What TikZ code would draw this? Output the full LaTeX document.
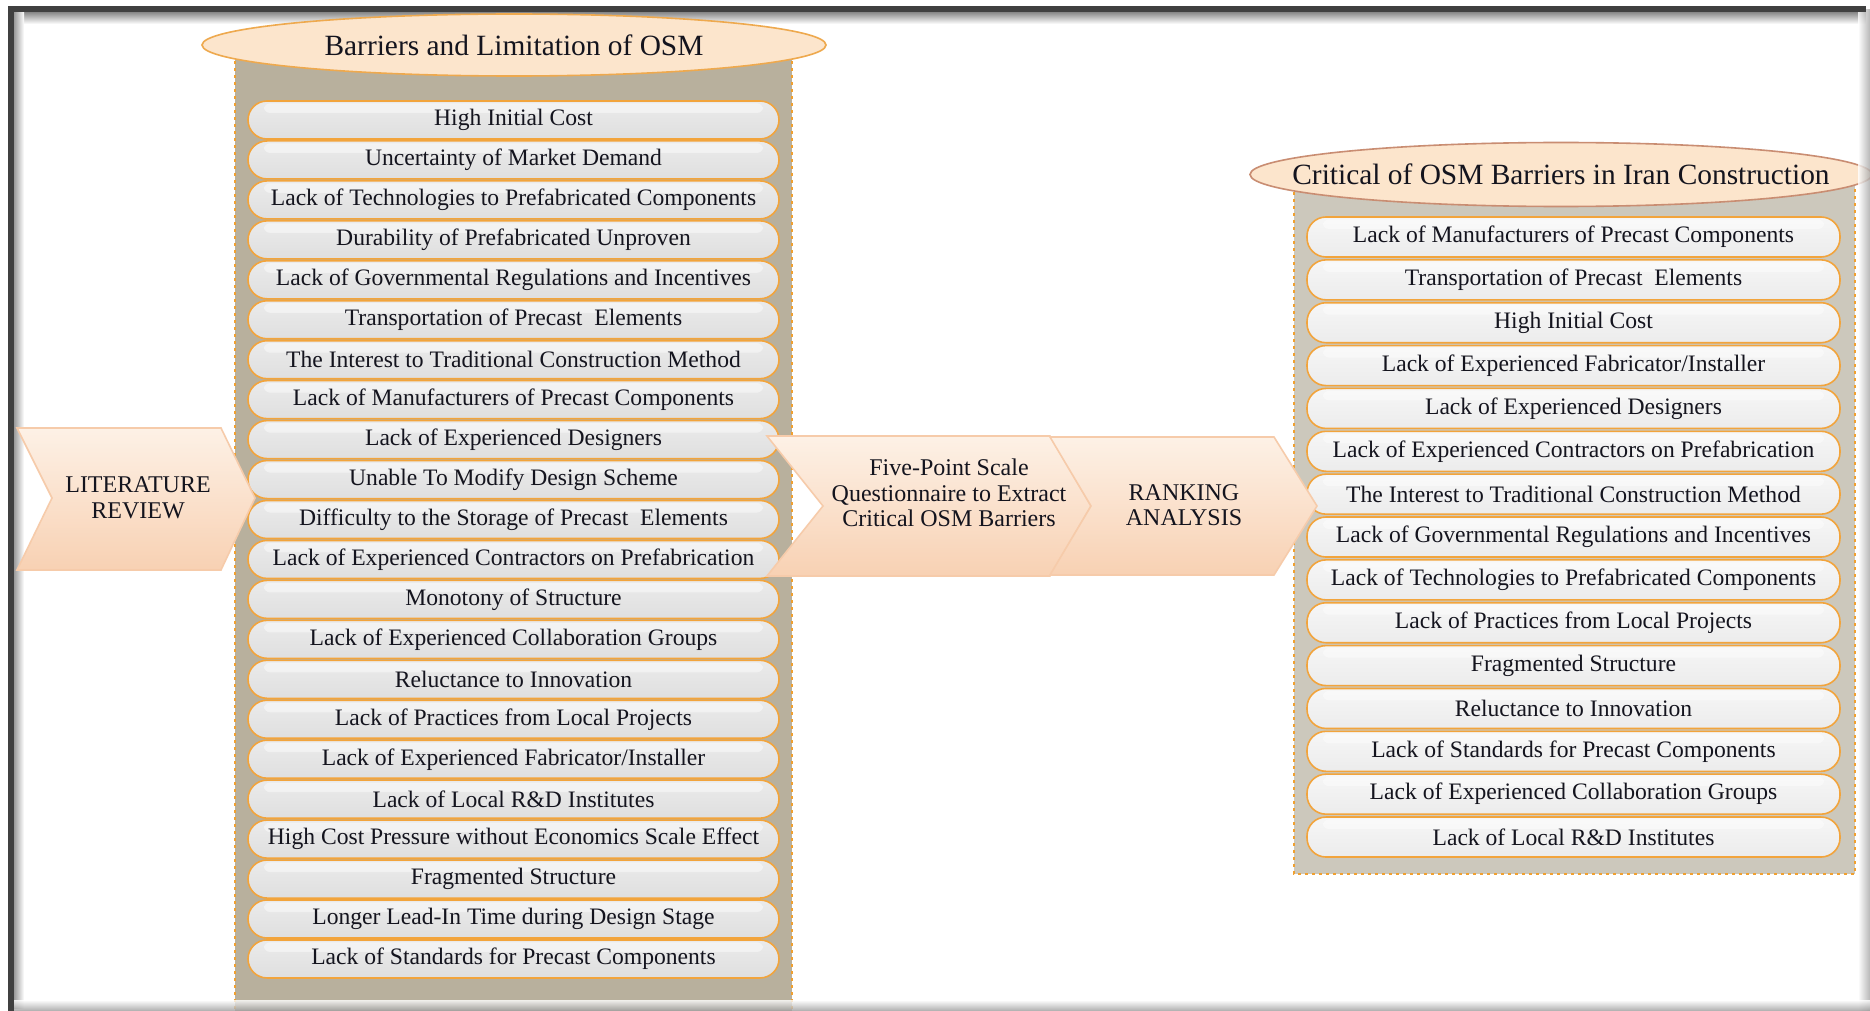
\documentclass[tikz,border=0pt]{standalone}
\usepackage{fontspec}
\setmainfont{Liberation Serif}
\usetikzlibrary{calc}
\definecolor{txt}{HTML}{14141E}
\definecolor{pillline}{HTML}{F2A43C}
\definecolor{lcol}{HTML}{B8B09D}
\definecolor{rcol}{HTML}{CCC8BC}
\definecolor{ellfill}{HTML}{FCE5CC}
\definecolor{ellleft}{HTML}{EEA94E}
\definecolor{ellright}{HTML}{C98D72}
\definecolor{chevtop}{HTML}{FDF1E6}
\definecolor{chevbot}{HTML}{F8D1B3}
\definecolor{chevline}{HTML}{F6CBAA}
\definecolor{colline}{HTML}{F0A030}
\begin{document}
\begin{tikzpicture}[x=0.5pt,y=-0.5pt,
  pillbase/.style={draw=pillline, line width=0.8pt, rounded corners=9.5pt,
    inner sep=0pt, text=txt, font=\fontsize{11.8}{13}\selectfont,
    path picture={\fill[white,opacity=0.45,rounded corners=3pt]
      ($(path picture bounding box.north west)+(8pt,-1.2pt)$) rectangle
      ($(path picture bounding box.north east)+(-8pt,-6pt)$);}},
  lpill/.style={pillbase, minimum width=265.5pt, minimum height=19pt,
    top color=white!84!gray, bottom color=white!75!gray},
  rpill/.style={pillbase, minimum width=266.5pt, minimum height=20pt,
    top color=white!93!gray, bottom color=white!85!gray},
  column/.style={draw=colline, line width=0.7pt, dash pattern=on 1.5pt off 2pt},
  header/.style={fill=ellfill, line width=0.8pt},
  headtext/.style={text=txt, inner sep=0pt, font=\fontsize{14.7}{16}\selectfont},
  chevron/.style={draw=chevline, line width=0.8pt, top color=chevtop, bottom color=chevbot},
  chevtext/.style={align=center, text=txt, font=\fontsize{12}{12.8}\selectfont}]

% page and frame
\fill[white] (0,0) rectangle (1870,1011);
\useasboundingbox (0,0) rectangle (1870,1011);
\shade[top color=black!55, bottom color=white] (10,10) rectangle (1866,24);
\shade[left color=black!55, right color=white] (10,10) rectangle (24,1008);

% left column: barriers from the literature
\fill[lcol] (235,40) rectangle (792,1011);
\draw[column] (235,40) -- (235,1011) (792,40) -- (792,1011);
\path[header, draw=ellleft] (514,45) ellipse [x radius=312, y radius=31];
\node[headtext] (lhead) at (514,45) {Barriers and Limitation of OSM};

\foreach \t [count=\i] in {
  {High Initial Cost},
  {Uncertainty of Market Demand},
  {Lack of Technologies to Prefabricated Components},
  {Durability of Prefabricated Unproven},
  {Lack of Governmental Regulations and Incentives},
  {Transportation of Precast~ Elements},
  {The Interest to Traditional Construction Method},
  {Lack of Manufacturers of Precast Components},
  {Lack of Experienced Designers},
  {Unable To Modify Design Scheme},
  {Difficulty to the Storage of Precast~ Elements},
  {Lack of Experienced Contractors on Prefabrication},
  {Monotony of Structure},
  {Lack of Experienced Collaboration Groups},
  {Reluctance to Innovation},
  {Lack of Practices from Local Projects},
  {Lack of Experienced Fabricator/Installer},
  {Lack of Local R\&D Institutes},
  {High Cost Pressure without Economics Scale Effect},
  {Fragmented Structure},
  {Longer Lead-In Time during Design Stage},
  {Lack of Standards for Precast Components}}
  \node[lpill] (l\i) at (513.5,{120+39.95*(\i-1)}) {\t};

% right column: critical barriers after ranking
\fill[rcol] (1294,185) rectangle (1855,874);
\draw[column] (1294,185) -- (1294,874) -- (1855,874) -- (1855,185);
\path[header, draw=ellright] (1561,174.5) ellipse [x radius=311, y radius=32];
\node[headtext] (rhead) at (1561,174.5) {Critical of OSM Barriers in Iran Construction};

\foreach \t [count=\i] in {
  {Lack of Manufacturers of Precast Components},
  {Transportation of Precast~ Elements},
  {High Initial Cost},
  {Lack of Experienced Fabricator/Installer},
  {Lack of Experienced Designers},
  {Lack of Experienced Contractors on Prefabrication},
  {The Interest to Traditional Construction Method},
  {Lack of Governmental Regulations and Incentives},
  {Lack of Technologies to Prefabricated Components},
  {Lack of Practices from Local Projects},
  {Fragmented Structure},
  {Reluctance to Innovation},
  {Lack of Standards for Precast Components},
  {Lack of Experienced Collaboration Groups},
  {Lack of Local R\&D Institutes}}
  \node[rpill] (r\i) at (1573.5,{237+42.86*(\i-1)}) {\t};

% process chevrons
\path[chevron] (17,428) -- (221,428) -- (255,498) -- (221,570) -- (17,570) -- (52,498) -- cycle;
\node[chevtext] (lit) at (138,498) {LITERATURE\\REVIEW};

\path[chevron] (767,436) -- (1050,436) -- (1091,506) -- (1050,576) -- (767,576) -- (823,506) -- cycle;
\node[chevtext] (quest) at (949,493) {Five-Point Scale\\Questionnaire to Extract\\Critical OSM Barriers};

\path[chevron] (1050,437) -- (1274,437) -- (1317,506) -- (1274,575) -- (1050,575) -- (1091,506) -- cycle;
\node[chevtext] (rank) at (1184,505) {RANKING\\ANALYSIS};

% frame edges
\shade[left color=white, right color=black!35, opacity=0.8] (1858,10) rectangle (1870,1011);
\shade[top color=white, bottom color=black!40, opacity=0.8] (10,1000) rectangle (1870,1011);
\draw[black!75, line width=3] (11,1011) -- (11,9.5) -- (1866,9.5);
\end{tikzpicture}
\end{document}
